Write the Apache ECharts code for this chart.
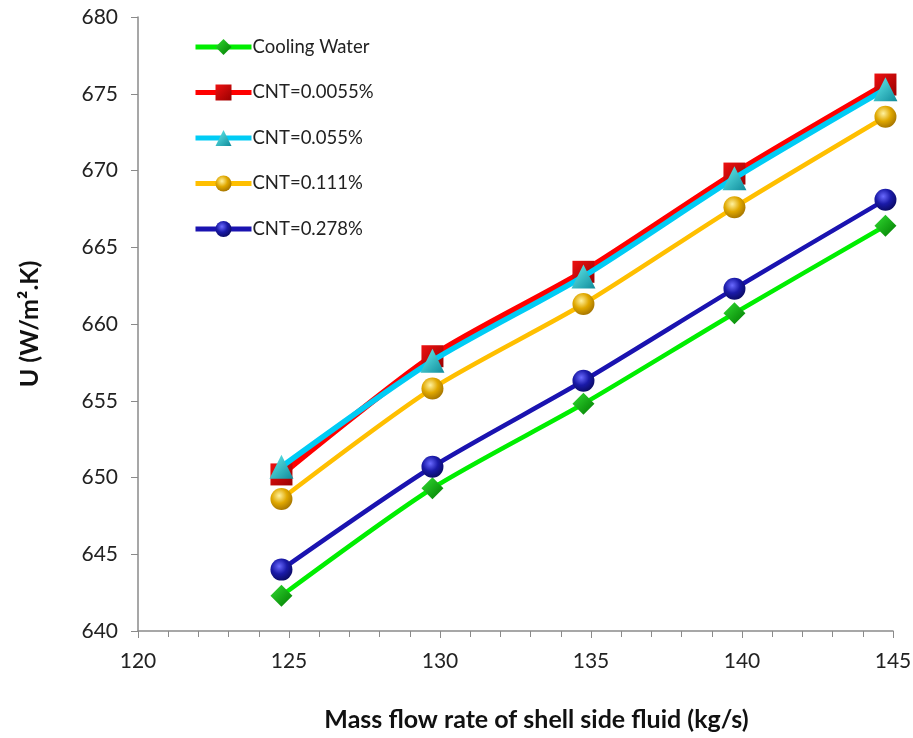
<!DOCTYPE html>
<html><head><meta charset="utf-8">
<script src="https://cdn.jsdelivr.net/npm/echarts@6/dist/echarts.min.js"></script>
<style>html,body{margin:0;padding:0;background:#fff}#c{width:913px;height:738px}</style>
</head><body><div id="c"></div>
<script>
const xValues = [124.75, 129.75, 134.75, 139.75, 144.75];
const coolingWater = [642.3, 649.3, 654.8, 660.7, 666.4];
const cnt00055 = [650.2, 657.9, 663.4, 669.8, 675.6];
const cnt0055 = [650.7, 657.6, 663.1, 669.5, 675.3];
const cnt0111 = [648.6, 655.8, 661.3, 667.6, 673.5];
const cnt0278 = [644.0, 650.7, 656.3, 662.3, 668.1];
const seriesNames = ['Cooling Water', 'CNT=0.0055%', 'CNT=0.055%', 'CNT=0.111%', 'CNT=0.278%'];

function pairs(ys){ return xValues.map((x,i)=>[x, ys[i]]); }
function radial(light, mid, dark){
  return {type:'radial', x:0.4, y:0.35, r:0.7, colorStops:[{offset:0,color:light},{offset:0.5,color:mid},{offset:1,color:dark}]};
}
function linear(light, dark){
  return {type:'linear', x:0, y:0, x2:1, y2:1, colorStops:[{offset:0,color:light},{offset:1,color:dark}]};
}
const styles = [
  {color:'#00ee00', width:4.5, symbol:'diamond', size:[22,22], fill:linear('#33dd33','#007a00')},
  {color:'#ff0000', width:6.5, symbol:'rect', size:[22,22], fill:linear('#ee1111','#990000')},
  {color:'#00ccf5', width:5.5, symbol:'triangle', size:[24,24], fill:linear('#66f0f0','#108a9a')},
  {color:'#ffbf00', width:4.5, symbol:'circle', size:[22,22], fill:radial('#fff2a0','#e0a800','#a07000')},
  {color:'#1a13b0', width:4.5, symbol:'circle', size:[22,22], fill:radial('#6a6aff','#1a1aa8','#0a0a60')}
];
const data = [coolingWater, cnt00055, cnt0055, cnt0111, cnt0278];

const chart = echarts.init(document.getElementById('c'));
chart.setOption({
  animation:false,
  backgroundColor:'#fff',
  grid:{left:138, right:20, top:17, bottom:107, outerBoundsMode:'none', containLabel:false},
  legend:{
    orient:'vertical', left:188, top:32, itemGap:25.5, itemWidth:56, itemHeight:20,
    lineStyle:{width:5},
    textStyle:{fontFamily:'Lato', fontSize:18.5, lineHeight:20, color:'#222', padding:[0,0,0,-4]},
    data: seriesNames
  },
  xAxis:{
    type:'value', min:120, max:145, interval:5,
    axisLine:{show:true, lineStyle:{color:'#8a8a8a', width:1.5}},
    axisTick:{show:true, inside:false, length:7, lineStyle:{color:'#8a8a8a'}},
    minorTick:{show:true, splitNumber:5, length:6, lineStyle:{color:'#8a8a8a'}},
    splitLine:{show:false},
    axisLabel:{fontFamily:'Lato', fontSize:21, color:'#222', margin:20},
    name:'Mass flow rate of shell side fluid (kg/s)', nameLocation:'middle', nameGap:76,
    nameTextStyle:{fontFamily:'Lato', fontSize:25, fontWeight:'bold', color:'#111', padding:[0,0,0,42]}
  },
  yAxis:{
    type:'value', min:640, max:680, interval:5,
    axisLine:{show:true, lineStyle:{color:'#8a8a8a', width:1.5}},
    axisTick:{show:true, inside:false, length:7, lineStyle:{color:'#8a8a8a'}},
    splitLine:{show:false},
    axisLabel:{fontFamily:'Lato', fontSize:21, color:'#222', margin:20},
    name:'U (W/m².K)', nameLocation:'middle', nameGap:96, nameRotate:90,
    nameTextStyle:{fontFamily:'Lato', fontSize:25, fontWeight:'bold', color:'#111'}
  },
  series: data.map((d,i)=>({
    name: seriesNames[i], type:'line', smooth:0.25,
    data: pairs(d),
    symbol: styles[i].symbol, symbolSize: styles[i].size,
    lineStyle:{color:styles[i].color, width:styles[i].width},
    itemStyle:{color:styles[i].fill, borderWidth:0},
    z: 2+i
  }))
});
</script></body></html>
